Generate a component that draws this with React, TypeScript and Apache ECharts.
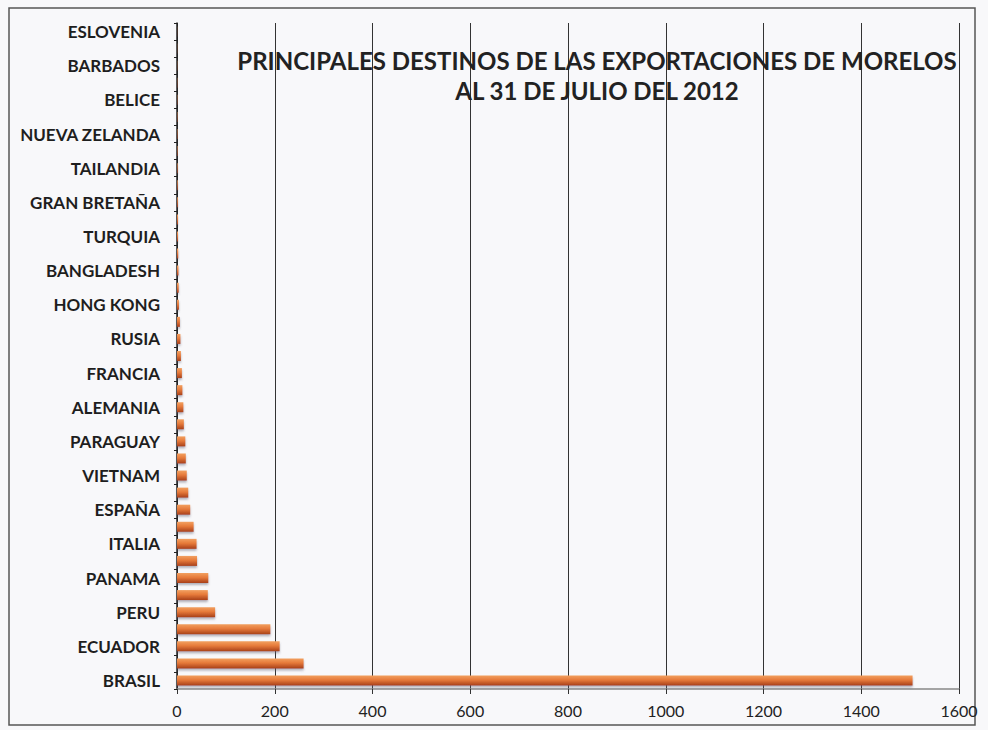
import React, { useEffect, useRef } from "react";
import * as echarts from "echarts";

const TITLE_LINE_1 = "PRINCIPALES DESTINOS DE LAS EXPORTACIONES DE MORELOS";
const TITLE_LINE_2 = "AL 31 DE JULIO DEL 2012";

// Categories from bottom to top (only every other one is labelled in the original)
const countries = [
  "BRASIL", "ESTADOS UNIDOS", "ECUADOR", "COLOMBIA", "PERU", "GUATEMALA", "PANAMA", "CHILE",
  "ITALIA", "ARGENTINA", "ESPAÑA", "COSTA RICA", "VIETNAM", "VENEZUELA", "PARAGUAY", "CANADA",
  "ALEMANIA", "JAPON", "FRANCIA", "CHINA", "RUSIA", "INDIA", "HONG KONG", "HONDURAS",
  "BANGLADESH", "EL SALVADOR", "TURQUIA", "URUGUAY", "GRAN BRETAÑA", "BOLIVIA", "TAILANDIA",
  "AUSTRALIA", "NUEVA ZELANDA", "CUBA", "BELICE", "NICARAGUA", "BARBADOS", "COREA", "ESLOVENIA",
];

const values = [
  1505, 259, 210, 191, 78, 63, 64, 41,
  40, 34, 27, 23, 20, 18, 17, 14,
  13, 11, 10, 8, 7, 6, 4, 3.5,
  3, 2.5, 2, 2, 1.6, 1.4, 1.2,
  1, 0.9, 0.8, 0.7, 0.6, 0.5, 0.4, 0.3,
];

const xTicks = [0, 200, 400, 600, 800, 1000, 1200, 1400, 1600];

export default function App() {
  const ref = useRef<HTMLDivElement>(null);
  useEffect(() => {
    if (!ref.current) return;
    const chart = echarts.init(ref.current, null, { renderer: "svg" });
    chart.setOption({
      animation: false,
      backgroundColor: "#f8f8fa",
      textStyle: { fontFamily: "Lato" },
      graphic: [
        {
          type: "rect",
          shape: { x: 9, y: 8, width: 966, height: 717 },
          style: { fill: "none", stroke: "#555", lineWidth: 1.5 },
          silent: true,
          z: 0,
        },
        {
          type: "text",
          x: 597,
          y: 45,
          style: {
            text: TITLE_LINE_1 + "\n" + TITLE_LINE_2,
            align: "center",
            verticalAlign: "top",
            font: "bold 24px Lato",
            fill: "#222",
            lineHeight: 30,
          },
          z: 10,
        },
      ],
      grid: { left: 177, right: 29, top: 23, bottom: 41, containLabel: false },
      xAxis: {
        type: "value",
        min: xTicks[0],
        max: xTicks[xTicks.length - 1],
        interval: 200,
        axisLine: { show: true, lineStyle: { color: "#888", width: 1.5 } },
        axisTick: { show: true, length: 5, lineStyle: { color: "#333" } },
        axisLabel: {
          color: "#222",
          fontSize: 16,
          fontFamily: "Lato",
          margin: 13,
          formatter: (v: number) => String(v),
        },
        splitLine: { show: true, lineStyle: { color: "#333", width: 1 } },
      },
      yAxis: {
        type: "category",
        data: countries,
        axisLine: { show: true, lineStyle: { color: "#222", width: 1.5 } },
        axisTick: { show: true, length: 3, interval: 0, lineStyle: { color: "#222" } },
        axisLabel: {
          interval: 1,
          color: "#1e1e1e",
          fontSize: 17,
          fontWeight: "bold",
          fontFamily: "Lato",
          margin: 17,
        },
      },
      series: [
        {
          type: "bar",
          data: values,
          barWidth: 10,
          itemStyle: {
            color: new echarts.graphic.LinearGradient(0, 0, 0, 1, [
              { offset: 0, color: "#f2a060" },
              { offset: 0.45, color: "#e67a3a" },
              { offset: 1, color: "#a8401a" },
            ]),
            shadowColor: "rgba(90,90,110,0.45)",
            shadowOffsetY: 2,
            shadowBlur: 2,
          },
        },
      ],
    });
    return () => chart.dispose();
  }, []);
  return <div ref={ref} style={{ width: 988, height: 730, position: "absolute", left: 0, top: 0 }} />;
}
